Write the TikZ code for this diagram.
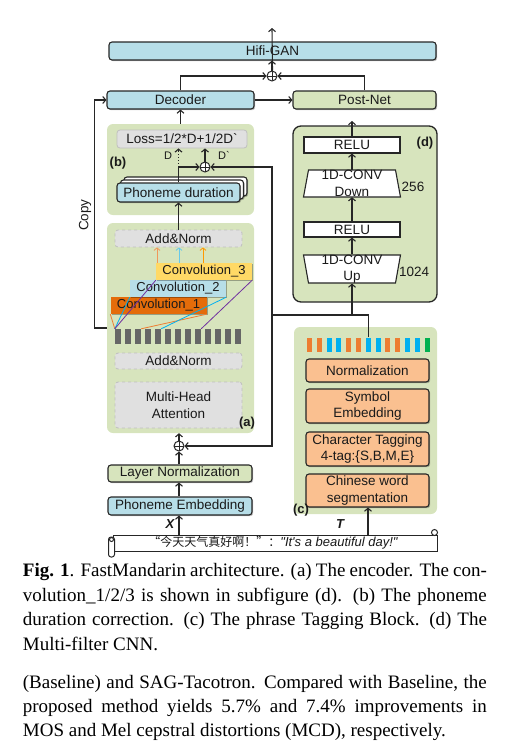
\documentclass[tikz,border=0pt]{standalone}
\usepackage{fontspec}
\setmainfont{Liberation Serif}
\newfontfamily\arialf{Liberation Sans}
\newfontfamily\cjkf{Noto Sans CJK SC}
\usetikzlibrary{arrows.meta,shadows,calc}
\definecolor{lc}{HTML}{262626}
\definecolor{lb}{HTML}{B7DEE8}
\definecolor{lg}{HTML}{D7E4BD}
\definecolor{pg}{HTML}{D7E4BD}
\definecolor{gb}{HTML}{E0E0E0}
\definecolor{gbd}{HTML}{BFBFBF}
\definecolor{pk}{HTML}{FAC090}
\definecolor{cone}{HTML}{E46C0A}
\definecolor{cthree}{HTML}{FFD966}
\definecolor{barc}{HTML}{666666}
\definecolor{oc}{HTML}{ED7D31}
\definecolor{bc}{HTML}{00B0F0}
\definecolor{gc}{HTML}{00B050}
\definecolor{puc}{HTML}{7030A0}
\definecolor{txt}{HTML}{1A1A1A}
\newcommand{\dgfont}{\arialf\fontsize{13.5pt}{16.5pt}\selectfont}
\begin{document}
\begin{tikzpicture}[x=1pt,y=-1pt,
  arr/.style={draw=lc, line width=1.1pt, -{Straight Barb[length=3pt,width=7pt]}},
  ln/.style={draw=lc, line width=1.1pt},
  box/.style={draw=lc, line width=1.1pt, rounded corners=3pt, inner sep=0pt, align=center,
    font=\dgfont, text=txt, drop shadow={shadow xshift=1.2pt, shadow yshift=-1.2pt, fill=black, opacity=0.25}},
  sqbox/.style={draw=lc, line width=1.1pt, fill=white, inner sep=0pt, font=\dgfont, text=txt},
  panel/.style={fill=pg, rounded corners=6pt, draw=none, inner sep=0pt},
  greybox/.style={fill=gb, draw=gbd, dashed, line width=0.8pt, rounded corners=3pt, inner sep=0pt, align=center, font=\dgfont, text=txt},
  convbox/.style={draw=none, inner sep=0pt, font=\arialf\fontsize{13pt}{15pt}\selectfont, text=txt,
    minimum width=96pt, minimum height=17pt, drop shadow={shadow xshift=1.2pt, shadow yshift=-1.2pt, fill=black, opacity=0.3}},
  dtext/.style={inner sep=0pt, font=\dgfont, text=txt},
  lab/.style={inner sep=0pt, font=\arialf\bfseries\fontsize{13pt}{15pt}\selectfont, text=txt},
  smalllab/.style={inner sep=0pt, font=\arialf\fontsize{11pt}{13pt}\selectfont, text=txt},
  opl/.style={circle, draw=lc, line width=1pt, fill=white, minimum size=10pt, inner sep=0pt,
    path picture={\draw[lc, line width=1pt] (path picture bounding box.north) -- (path picture bounding box.south)
      (path picture bounding box.west) -- (path picture bounding box.east);}},
  thin/.style={line width=0.8pt},
  trap/.style={draw=lc, line width=1.1pt, fill=white},
  scr/.style={draw=lc, line width=1pt, fill=white}
]
\useasboundingbox (0,0) rectangle (509,753);

% ---------- top part ----------
\node[box, fill=lb, minimum width=327pt, minimum height=18pt] (hifi) at (272.5,51) {Hifi-GAN};
\node[box, fill=lb, minimum width=147pt, minimum height=18pt] (dec) at (180.5,100) {Decoder};
\node[box, fill=lg, minimum width=143pt, minimum height=18pt] (post) at (364.5,100) {Post-Net};
\node[opl] (o1) at (272,76) {};
\coordinate (out) at (272,28);
\draw[arr] (o1.north -| hifi.north) -- (out);
\draw[arr] (o1.north) -- (o1.north |- hifi.south);
\draw[arr] (dec.north) |- (o1);
\draw[arr] (post.north) |- (o1);
\draw[arr] (dec) -- (post);

% ---------- panel b ----------
\node[panel, minimum width=147pt, minimum height=91pt] (pb) at (180.5,169.5) {};
\draw[arr] (pb.north) -- (dec.south);
\node[fill=gb, draw=gbd, line width=0.8pt, rounded corners=3pt, inner sep=0pt, font=\dgfont, text=txt,
  minimum width=130pt, minimum height=18pt] (loss) at (182,139) {Loss=1/2*D+1/2D`};
\node[box, fill=white, minimum width=123pt, minimum height=19pt] (pdb2) at (185.5,186.5) {};
\node[box, fill=white, minimum width=123pt, minimum height=19pt] (pdb1) at (182,189.5) {};
\node[box, fill=lb, minimum width=123pt, minimum height=19pt] (pd) at (178.5,192.5) {Phoneme duration};
\node[opl] (o2) at (205,167) {};
\coordinate (j1) at (pd.north |- o2);
\draw[ln] (pd.north) -- (j1);
\draw[arr, dotted] (j1) -- (j1 |- loss.south);
\draw[arr] (j1) -- (o2);
\draw[arr] (o2) -- (o2 |- loss.south);
\node[smalllab] (dl) at (168,155.5) {D};
\node[smalllab] (dpl) at (224,155.5) {D`};
\node[lab] (lb) at (118,163) {(b)};

% ---------- panel a ----------
\node[panel, minimum width=147pt, minimum height=210pt] (pa) at (180.5,328) {};
\node[greybox, minimum width=127pt, minimum height=17pt] (an2) at (178.5,238.5) {Add\&Norm};
\draw[arr] (an2.north) -- (an2.north |- pd.south);
\node[convbox, fill=cone] (c1) at (158.5,305.5) {Convolution\_1};
\node[convbox, fill=lb] (c2) at (178,288.5) {Convolution\_2};
\node[convbox, fill=cthree] (c3) at (204,271.5) {Convolution\_3};
\foreach \i in {1,...,13} {
  \node[fill=barc, minimum width=6pt, minimum height=15pt, inner sep=0pt] (b\i) at ({118+10*(\i-1)},336.5) {};
}
\draw[oc, thin] (b1.north west) -- (c1.south west) (b3.north east) -- (c1.south east);
\draw[bc, thin] (b1.north west) -- (c2.south west) (b5.north east) -- (c2.south east);
\draw[puc, thin] (b1.north west) -- (c3.south west) (b9.north east) -- (c3.south east);
\draw[oc!80, thin, -{Straight Barb[length=2.5pt,width=6pt]}] ($(an2.south)+(-21.5,16)$) -- ($(an2.south)+(-21.5,0)$);
\draw[bc!45!lb, thin, -{Straight Barb[length=2.5pt,width=6pt]}] ($(an2.south)+(0.5,16)$) -- ($(an2.south)+(0.5,0)$);
\draw[orange!80!yellow, thin, -{Straight Barb[length=2.5pt,width=6pt]}] ($(an2.south)+(24.5,16)$) -- ($(an2.south)+(24.5,0)$);
\node[greybox, minimum width=127pt, minimum height=16pt] (an1) at (178.5,361) {Add\&Norm};
\node[greybox, minimum width=127pt, minimum height=46pt] (mha) at (178.5,405) {Multi-Head\\Attention};
\node[lab] (la) at (247,423) {(a)};

% copy
\draw[arr] (pa.west) -- ++(-12,0) |- (dec.west);
\node[dtext, rotate=90] (copy) at (85,215) {Copy};

% ---------- below a ----------
\node[opl] (o3) at (179,446) {};
\draw[arr] (o3) -- (o3 |- pa.south);
\node[box, fill=lg, minimum width=144pt, minimum height=17pt] (ln1) at (180,473.5) {Layer Normalization};
\node[box, fill=lb, minimum width=144pt, minimum height=18pt] (pe) at (180,506) {Phoneme Embedding};
\draw[arr] (ln1.north -| o3) -- (o3);
\draw[arr] (pe.north -| o3) -- (ln1.south -| o3);

% ---------- panel d ----------
\node[panel, draw=lc, line width=1.3pt, rounded corners=8pt, minimum width=144pt, minimum height=176pt] (pdd) at (365,214) {};
\node[sqbox, minimum width=96pt, minimum height=16pt] (r2) at (352,145) {RELU};
\path[trap] (303.5,197) -- (400.5,197) -- (395.5,170) -- (308.5,170) -- cycle;
\node[dtext, align=center, minimum width=97pt, minimum height=27pt] (dn) at (352,183.5) {1D-CONV\\Down};
\node[sqbox, minimum width=96pt, minimum height=15pt] (r1) at (352,229.5) {RELU};
\path[trap] (303.5,255) -- (400.5,255) -- (395.5,283) -- (308.5,283) -- cycle;
\node[dtext, align=center, minimum width=97pt, minimum height=28pt] (upn) at (352,269) {1D-CONV\\Up};
\node[dtext] (n256) at (413,187) {256};
\node[dtext, anchor=west] (n1024) at (399,272) {1024};
\node[lab] (ld) at (425,143) {(d)};
\coordinate (dout) at (352,121);
\draw[arr] (r2.north) -- (dout);
\draw[arr] (dn.north) -- (r2.south);
\draw[arr] (r1.north) -- (dn.south);
\draw[arr] (upn.north) -- (r1.south);

% ---------- panel c ----------
\node[panel, minimum width=143pt, minimum height=187pt] (pc) at (365.5,420.5) {};
\foreach \i/\c in {1/oc,2/oc,3/bc,4/bc,5/oc,6/oc,7/bc,8/bc,9/oc,10/oc,11/bc,12/bc,13/gc} {
  \node[fill=\c, minimum width=5pt, minimum height=14pt, inner sep=0pt] (cb\i) at ({309.5+9.8*(\i-1)},344.5) {};
}
\node[box, fill=pk, minimum width=123pt, minimum height=23pt] (norm) at (367.5,370.5) {Normalization};
\node[box, fill=pk, minimum width=123pt, minimum height=34pt] (sym) at (367.5,406) {Symbol\\Embedding};
\node[box, fill=pk, minimum width=123pt, minimum height=34pt] (ctag) at (367.5,449) {Character Tagging\\4-tag:\{S,B,M,E\}};
\node[box, fill=pk, minimum width=123pt, minimum height=33pt] (cws) at (367.5,490.5) {Chinese word\\segmentation};
\node[lab] (lc) at (301,510) {(c)};

% ---------- connections from c ----------
\coordinate (jr) at (272,315);
\draw[ln] (cb7.north) |- (jr);
\draw[arr] (jr) |- (o2);
\draw[arr] (jr) |- (o3);
\draw[arr] (upn.south |- jr) -- (upn.south);

% ---------- scroll ----------
\draw[scr, drop shadow={shadow xshift=1.2pt, shadow yshift=-1.2pt, fill=black, opacity=0.25}] (113,535) rectangle (437,551);
\draw[scr] (434.5,532.5) circle[radius=3];
\draw[scr, rounded corners=2.5pt] (108.5,537) rectangle (114.5,557);
\draw[scr] (111.5,539.5) circle[radius=2];
\node[inner sep=0pt, text=txt] (scrtext) at (273,543) {{\cjkf\fontsize{12pt}{14pt}\selectfont “今天天气真好啊！”：}{\arialf\itshape\fontsize{13pt}{15pt}\selectfont"It's a beautiful day!"}};
\coordinate (xs) at (179,535);
\coordinate (ts) at (368,535);
\draw[arr] (xs) -- (xs |- pe.south);
\draw[arr] (ts) -- (ts |- cws.south);
\node[inner sep=0pt, font=\arialf\bfseries\itshape\fontsize{13pt}{15pt}\selectfont, text=txt] (xl) at (170,524) {X};
\node[inner sep=0pt, font=\arialf\bfseries\itshape\fontsize{13pt}{15pt}\selectfont, text=txt] (tl) at (340,524) {T};

% ---------- caption ----------
\node[anchor=north west, inner sep=0pt, text width=464pt, align=justify,
  font=\fontsize{19pt}{24.8pt}\selectfont] (cap) at (22.7,563)
  {\textbf{Fig. 1}. FastMandarin architecture. (a) The encoder. The con-\linebreak
   volution\_1/2/3 is shown in subfigure (d). (b) The phoneme\linebreak
   duration correction. (c) The phrase Tagging Block. (d) The\linebreak
   Multi-filter CNN.};
\node[anchor=north west, inner sep=0pt, text width=464pt, align=justify,
  font=\fontsize{19pt}{24.2pt}\selectfont] (para) at (22.7,675)
  {(Baseline) and SAG-Tacotron. Compared with Baseline, the\linebreak
   proposed method yields 5.7\% and 7.4\% improvements in\linebreak
   MOS and Mel cepstral distortions (MCD), respectively.};
\end{tikzpicture}
\end{document}
